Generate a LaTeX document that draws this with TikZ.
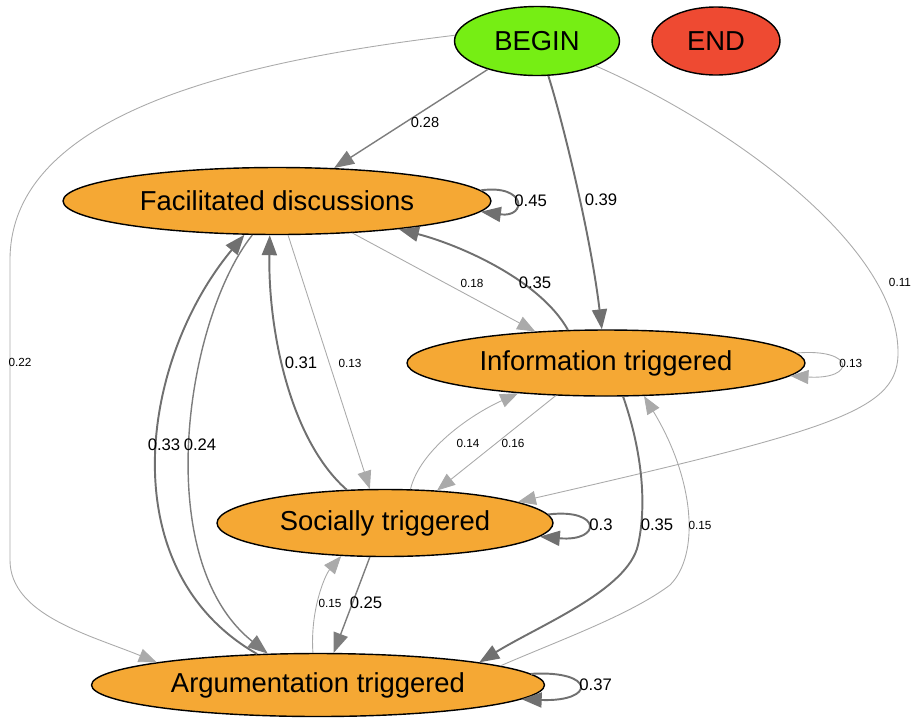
\documentclass[tikz,border=0pt]{standalone}
\usepackage{fontspec}
\setmainfont{Liberation Sans}
\usetikzlibrary{shapes.geometric,arrows.meta}
\definecolor{begincol}{RGB}{118,238,20}
\definecolor{endcol}{RGB}{238,74,50}
\definecolor{orangecol}{RGB}{245,168,52}
\definecolor{heavygray}{RGB}{112,112,112}
\definecolor{midgray}{RGB}{125,125,125}
\definecolor{lightgray}{RGB}{170,170,170}
\begin{document}
\begin{tikzpicture}[x=0.02cm,y=-0.02cm,
  stnode/.style={ellipse,draw=black,line width=0.8pt,inner sep=0pt,font=\fontsize{15.6}{18}\selectfont},
  heavy/.style={draw=heavygray,line width=1.1pt,-{Triangle[length=0.4cm,width=0.3cm]}},
  medium/.style={draw=midgray,line width=0.8pt,-{Triangle[length=0.4cm,width=0.3cm]}},
  light/.style={draw=lightgray,line width=0.5pt,-{Triangle[length=0.36cm,width=0.28cm]}},
  lab/.style={font=\fontsize{9.5}{11}\selectfont,inner sep=0pt},
  mlab/.style={font=\fontsize{8.3}{10}\selectfont,inner sep=0pt},
  slab/.style={font=\fontsize{6.7}{8}\selectfont,inner sep=0pt}]
\useasboundingbox (0,0) rectangle (916,721);

% nodes
\node[stnode,fill=begincol,minimum width=3.3cm,minimum height=1.38cm] (begin) at (537,41) {BEGIN};
\node[stnode,fill=endcol,minimum width=2.56cm,minimum height=1.36cm] (end) at (716,41) {END};
\node[stnode,fill=orangecol,minimum width=8.56cm,minimum height=1.34cm] (fac) at (277,201) {Facilitated discussions};
\node[stnode,fill=orangecol,minimum width=7.96cm,minimum height=1.32cm] (info) at (606,363) {Information triggered};
\node[stnode,fill=orangecol,minimum width=6.72cm,minimum height=1.34cm] (soc) at (385,523) {Socially triggered};
\node[stnode,fill=orangecol,minimum width=9.06cm,minimum height=1.26cm] (arg) at (318,685) {Argumentation triggered};

% edges from BEGIN
\draw[medium] (begin.210) -- (fac.30);
\node[mlab] (l028) at (425,122) {0.28};
\draw[heavy] (begin.-72) .. controls (560,112) and (590,230) .. (info.97);
\node[lab] (l039) at (601,200) {0.39};
\draw[light] (begin.176) .. controls (250,60) and (10,110) .. (10,260) -- (10,560) .. controls (10,615) and (90,635) .. (arg.172);
\node[slab] (l022) at (20,362) {0.22};
\draw[light] (begin.-23) .. controls (720,120) and (895,240) .. (898,350) .. controls (900,410) and (840,428) .. (soc.9);
\node[slab] (l011) at (900,282) {0.11};

% Facilitated discussions
\draw[heavy] (fac.3) .. controls (527,184) and (527,218) .. (fac.-3);
\node[lab,anchor=west] (l045) at (514,201) {0.45};
\draw[light] (fac.-23) -- (info.156);
\node[slab] (l018) at (472,283) {0.18};
\draw[light] (fac.-72) -- (soc.114);
\node[slab] (l013a) at (350,363) {0.13};
\draw[medium] (fac.-126) .. controls (185,320) and (150,560) .. (arg.148);
\node[lab] (l024) at (200,445) {0.24};

% Information triggered
\draw[heavy] (info.139.5) .. controls (540,280) and (460,245) .. (fac.-13.6);
\node[lab] (l035a) at (535,283) {0.35};
\draw[light] (info.3.5) .. controls (856,348) and (856,380) .. (info.-4);
\node[slab,anchor=west] (l013b) at (839,363) {0.13};
\draw[light] (info.213) -- (soc.32.6);
\node[slab] (l016) at (513,443) {0.16};
\draw[heavy] (info.-63) .. controls (640,445) and (648,500) .. (638,545) .. controls (628,590) and (540,625) .. (arg.8);
\node[lab] (l035b) at (657,525) {0.35};

% Socially triggered
\draw[heavy] (soc.139.4) .. controls (290,440) and (268,330) .. (fac.258.2);
\node[lab] (l031) at (301,363) {0.31};
\draw[light] (soc.53) .. controls (420,450) and (470,415) .. (info.199);
\node[slab] (l014) at (468,443) {0.14};
\draw[heavy] (soc.3.9) .. controls (602,508) and (602,542) .. (soc.-5.4);
\node[lab,anchor=west] (l03) at (589,525) {0.3};
\draw[medium] (soc.-114.2) -- (arg.64.5);
\node[lab] (l025) at (366,603) {0.25};

% Argumentation triggered
\draw[heavy] (arg.153.1) .. controls (110,570) and (140,360) .. (fac.226.6);
\node[lab] (l033) at (164,445) {0.33};
\draw[light] (arg.99) .. controls (310,610) and (325,575) .. (soc.217.6);
\node[slab] (l015a) at (330,603) {0.15};
\draw[light] (arg.6) .. controls (560,640) and (630,615) .. (670,585) .. controls (700,555) and (695,480) .. (info.-41);
\node[slab] (l015b) at (700,525) {0.15};
\draw[heavy] (arg.3) .. controls (596,670) and (596,702) .. (arg.-4);
\node[lab,anchor=west] (l037) at (579,685) {0.37};
\end{tikzpicture}
\end{document}
